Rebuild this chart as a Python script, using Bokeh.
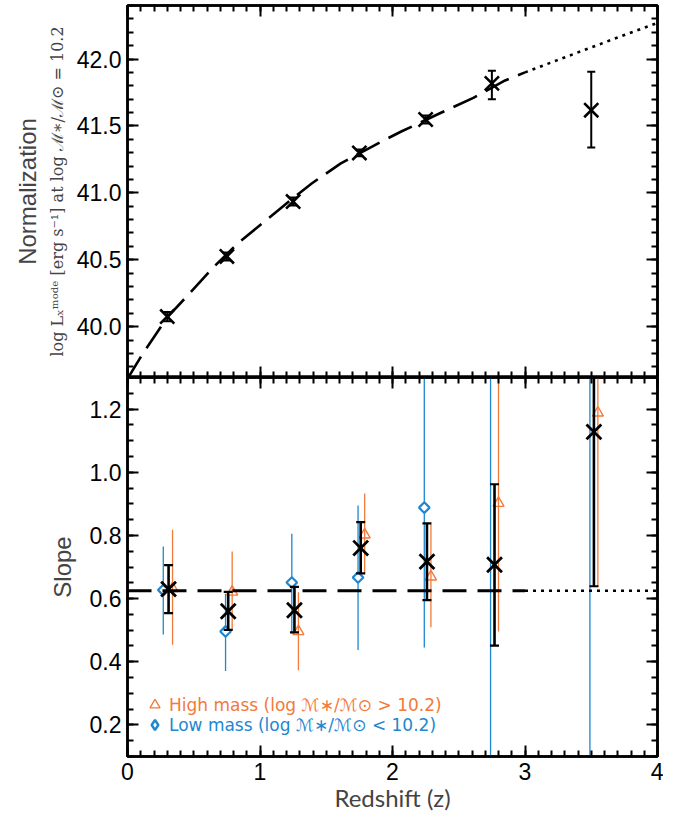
import numpy as np
from bokeh.plotting import figure
from bokeh.models import (LinearAxis, FixedTicker, Range1d, Legend, LegendItem,
                          NumeralTickFormatter)
from bokeh.layouts import column
from bokeh.embed import file_html
from bokeh.resources import INLINE

ORANGE = "#F27A3A"
BLUE = "#1E87D0"

# ---------------- data: top panel (normalization) ----------------
z_top = [0.3, 0.75, 1.25, 1.75, 2.25, 2.75, 3.5]
norm = [40.075, 40.525, 40.935, 41.298, 41.548, 41.818, 41.618]
norm_lo = [40.04, 40.495, 40.905, 41.273, 41.518, 41.70, 41.338]
norm_hi = [40.11, 40.555, 40.965, 41.323, 41.578, 41.912, 41.905]

curve_z = [0.0, 0.11, 0.3, 0.47, 0.65, 0.83, 1.04, 1.23, 1.39, 1.61, 1.91, 2.07, 2.37, 2.61, 2.85, 3.0]
curve_y = [39.61, 39.79, 40.07, 40.25, 40.445, 40.62, 40.79, 40.945, 41.07, 41.22, 41.38, 41.46,
           41.60, 41.71, 41.84, 41.90]
curve_ext_z = [3.0, 3.24, 3.67, 4.0]
curve_ext_y = [41.90, 41.99, 42.15, 42.27]

# ---------------- data: bottom panel (slope) ----------------
z_all = [0.31, 0.76, 1.26, 1.76, 2.26, 2.77, 3.52]
slope = [0.630, 0.560, 0.563, 0.760, 0.717, 0.707, 1.128]
slope_lo = [0.554, 0.501, 0.493, 0.680, 0.595, 0.451, 0.639]
slope_hi = [0.706, 0.621, 0.637, 0.842, 0.838, 0.962, 1.620]

z_low = [0.27, 0.74, 1.24, 1.74, 2.24, 2.74, 3.49]
low = [0.627, 0.496, 0.651, 0.667, 0.888, 1.40, 1.55]
low_lo = [0.486, 0.371, 0.490, 0.437, 0.445, -0.50, -0.50]
low_hi = [0.765, 0.615, 0.805, 0.895, 1.500, 3.00, 3.00]

z_high = [0.34, 0.79, 1.29, 1.79, 2.29, 2.80, 3.55]
high = [0.632, 0.621, 0.496, 0.802, 0.669, 0.902, 1.188]
high_lo = [0.454, 0.500, 0.373, 0.680, 0.509, 0.496, 0.637]
high_hi = [0.818, 0.749, 0.620, 0.933, 0.835, 1.600, 1.800]

slope_fit = 0.625
fit_z = [0.0, 3.0]
fit_ext_z = [3.0, 4.0]

x_ticks = [0, 1, 2, 3, 4]
top_ticks = [40.0, 40.5, 41.0, 41.5, 42.0]
bot_ticks = [0.2, 0.4, 0.6, 0.8, 1.0, 1.2]

x_minor = [round(v, 2) for v in np.arange(0, 4.001, 0.1)]
top_minor = [round(v, 2) for v in np.arange(39.7, 42.41, 0.1)]
bot_minor = [round(v, 3) for v in np.arange(0.1, 1.31, 0.05)]

W = 663
LB = 127
TICK_FONT = "Liberation Sans"
LEG_FONT = "DejaVu Sans"


def style_axis(ax, show_labels, size="23px"):
    ax.axis_line_width = 2.5
    ax.axis_line_color = "black"
    ax.major_tick_line_width = 2
    ax.minor_tick_line_width = 2
    ax.major_tick_in = 11
    ax.major_tick_out = 0
    ax.minor_tick_in = 6
    ax.minor_tick_out = 0
    ax.major_label_text_font = TICK_FONT
    if show_labels:
        ax.major_label_text_color = "black"
        ax.major_label_text_font_size = size
        ax.major_label_standoff = 6
    else:
        ax.major_label_text_color = None
        ax.major_label_text_font_size = "0px"
        ax.major_label_standoff = 0


def label_axis(text, size, font, standoff):
    ax = LinearAxis(axis_label=text, ticker=FixedTicker(ticks=[]))
    ax.axis_line_color = None
    ax.major_tick_line_color = None
    ax.minor_tick_line_color = None
    ax.major_tick_out = 0
    ax.major_tick_in = 0
    ax.major_label_text_color = None
    ax.major_label_text_font_size = "0px"
    ax.major_label_standoff = 0
    ax.axis_label_text_font = font
    ax.axis_label_text_font_size = size
    ax.axis_label_text_font_style = "normal"
    ax.axis_label_standoff = standoff
    return ax


# ================= top panel =================
p1 = figure(width=W, height=377, x_range=Range1d(0, 4), y_range=Range1d(39.62, 42.4),
            output_backend="svg", toolbar_location=None,
            min_border_left=LB, min_border_right=6, min_border_top=5, min_border_bottom=0)
p1.grid.visible = False
p1.outline_line_color = "black"
p1.outline_line_width = 2.5

xa = p1.xaxis[0]
xa.ticker = FixedTicker(ticks=x_ticks, minor_ticks=x_minor)
style_axis(xa, False)
ya = p1.yaxis[0]
ya.ticker = FixedTicker(ticks=top_ticks, minor_ticks=top_minor)
ya.formatter = NumeralTickFormatter(format="0.0")
style_axis(ya, True)
ya.axis_label = "log Lₓᵐᵒᵈᵉ [erg s⁻¹] at log ℳ∗/ℳ⊙ = 10.2"
ya.axis_label_text_font = "DejaVu Serif"
ya.axis_label_text_font_size = "16px"
ya.axis_label_text_font_style = "normal"
ya.axis_label_standoff = 7

top_ax = LinearAxis(ticker=FixedTicker(ticks=x_ticks, minor_ticks=x_minor))
style_axis(top_ax, False)
p1.add_layout(top_ax, "above")
right_ax = LinearAxis(ticker=FixedTicker(ticks=top_ticks, minor_ticks=top_minor))
style_axis(right_ax, False)
p1.add_layout(right_ax, "right")
p1.add_layout(label_axis("Normalization", "24px", TICK_FONT, 4), "left")

p1.line(curve_z, curve_y, line_color="black", line_width=2.6, line_dash="26 10")
p1.line(curve_ext_z, curve_ext_y, line_color="black", line_width=2.6, line_dash="3 5")
p1.segment(z_top, norm_lo, z_top, norm_hi, line_color="black", line_width=2)
p1.scatter(z_top, norm_lo, marker="dash", size=8, line_color="black", line_width=2)
p1.scatter(z_top, norm_hi, marker="dash", size=8, line_color="black", line_width=2)
p1.scatter(z_top, norm, marker="x", size=20, line_color="black", line_width=2.6)

# ================= bottom panel =================
p2 = figure(width=W, height=437, x_range=Range1d(0, 4), y_range=Range1d(0.1, 1.3),
            output_backend="svg", toolbar_location=None,
            min_border_left=LB, min_border_right=6, min_border_top=0, min_border_bottom=0)
p2.grid.visible = False
p2.outline_line_color = "black"
p2.outline_line_width = 2.5

xb = p2.xaxis[0]
xb.ticker = FixedTicker(ticks=x_ticks, minor_ticks=x_minor)
style_axis(xb, True)
xb.major_label_standoff = 6
xb.axis_label = "Redshift (z)"
xb.axis_label_text_font = "Lato"
xb.axis_label_text_font_size = "24px"
xb.axis_label_text_font_style = "normal"
xb.axis_label_standoff = 0

yb = p2.yaxis[0]
yb.ticker = FixedTicker(ticks=bot_ticks, minor_ticks=bot_minor)
yb.formatter = NumeralTickFormatter(format="0.0")
style_axis(yb, True)
yb.axis_label = "Slope"
yb.axis_label_text_font = TICK_FONT
yb.axis_label_text_font_size = "24px"
yb.axis_label_text_font_style = "normal"
yb.axis_label_standoff = 11

top_ax2 = LinearAxis(ticker=FixedTicker(ticks=x_ticks, minor_ticks=x_minor))
style_axis(top_ax2, False)
p2.add_layout(top_ax2, "above")
right_ax2 = LinearAxis(ticker=FixedTicker(ticks=bot_ticks, minor_ticks=bot_minor))
style_axis(right_ax2, False)
p2.add_layout(right_ax2, "right")

# subsample error bars
p2.segment(z_low, low_lo, z_low, low_hi, line_color=BLUE, line_width=1.3)
p2.segment(z_high, high_lo, z_high, high_hi, line_color=ORANGE, line_width=1.3)
p2.scatter(z_low, low, marker="square", angle=np.pi / 4, size=7.5,
           fill_color="white", line_color=BLUE, line_width=2.2)
r_tri = p2.scatter(z_high, high, marker="triangle", size=11,
                   fill_color=None, line_color=ORANGE, line_width=1.4)
# legend key for low-mass points: diamond glyph over the off-chart low-mass values
r_dia_key = p2.scatter(z_low[5:], low[5:], marker="diamond", size=10,
                       fill_color=None, line_color=BLUE, line_width=2.4)

# constant slope fit
p2.line(fit_z, [slope_fit] * len(fit_z), line_color="black", line_width=3, line_dash="24 11")
p2.line(fit_ext_z, [slope_fit] * len(fit_ext_z), line_color="black", line_width=2.6, line_dash="3 5")

# full sample
p2.segment(z_all, slope_lo, z_all, slope_hi, line_color="black", line_width=2.6)
p2.scatter(z_all, slope_lo, marker="dash", size=9, line_color="black", line_width=2.2)
p2.scatter(z_all, slope_hi, marker="dash", size=9, line_color="black", line_width=2.2)
p2.scatter(z_all, slope, marker="x", size=21, line_color="black", line_width=2.8)

leg_hi = Legend(items=[LegendItem(label="High mass (log ℳ∗/ℳ⊙ > 10.2)", renderers=[r_tri])],
                location=(15, 39))
leg_lo = Legend(items=[LegendItem(label="Low mass (log ℳ∗/ℳ⊙ < 10.2)", renderers=[r_dia_key])],
                location=(15, 19))
for leg, col in ((leg_hi, ORANGE), (leg_lo, BLUE)):
    leg.background_fill_alpha = 0
    leg.border_line_color = None
    leg.label_text_color = col
    leg.label_text_font = LEG_FONT
    leg.label_text_font_size = "17px"
    leg.padding = 0
    leg.margin = 0
    leg.spacing = 0
    leg.glyph_width = 25
    leg.glyph_height = 25
    leg.label_height = 25
    leg.label_standoff = 2
    p2.add_layout(leg)

layout = column(p1, p2, spacing=0)
open("out.html", "w").write(file_html(layout, INLINE))
